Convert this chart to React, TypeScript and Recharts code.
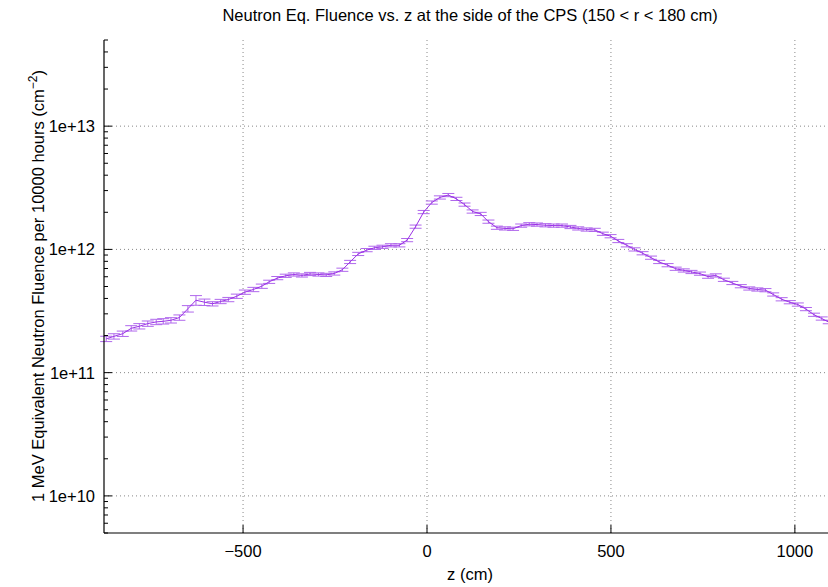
import { LineChart, Line, XAxis, YAxis, ErrorBar, ReferenceLine } from 'recharts'

// z position along the beam (cm)
const Z = [
  -872, -851, -827, -804, -782, -759, -736, -717, -696, -673,
  -650, -628, -605, -583, -561, -540, -517, -495, -472, -449,
  -429, -407, -384, -362, -340, -318, -295, -274, -252, -230,
  -209, -187, -164, -143, -121, -98, -75, -54, -31, -9,
  13, 35, 58, 80, 102, 124, 146, 167, 190, 212,
  234, 256, 278, 299, 322, 344, 367, 390, 411, 434,
  456, 478, 499, 520, 543, 564, 586, 609, 631, 654,
  676, 698, 719, 742, 764, 785, 807, 830, 853, 876,
  898, 920, 941, 964, 986, 1008, 1030, 1052, 1073, 1092,
]

// 1 MeV eq. neutron fluence per 10000 h (cm^-2)
const FLUENCE = [
  1.88e11, 1.97e11, 2.07e11, 2.29e11, 2.38e11, 2.5e11, 2.58e11, 2.61e11, 2.66e11, 2.8e11,
  3.3e11, 3.87e11, 3.73e11, 3.62e11, 3.78e11, 3.92e11, 4.17e11, 4.5e11, 4.73e11, 5.03e11,
  5.46e11, 5.85e11, 6.11e11, 6.26e11, 6.15e11, 6.32e11, 6.26e11, 6.21e11, 6.38e11, 6.84e11,
  7.91e11, 9.19e11, 9.87e11, 1.03e12, 1.05e12, 1.08e12, 1.08e12, 1.19e12, 1.53e12, 2.01e12,
  2.4e12, 2.64e12, 2.76e12, 2.57e12, 2.31e12, 2.03e12, 1.94e12, 1.68e12, 1.5e12, 1.48e12,
  1.47e12, 1.56e12, 1.6e12, 1.59e12, 1.57e12, 1.56e12, 1.56e12, 1.52e12, 1.48e12, 1.45e12,
  1.44e12, 1.34e12, 1.28e12, 1.17e12, 1.08e12, 1.0e12, 9.31e11, 8.57e11, 7.91e11, 7.45e11,
  6.97e11, 6.75e11, 6.56e11, 6.36e11, 6.01e11, 6.15e11, 5.67e11, 5.34e11, 5.03e11, 4.82e11,
  4.73e11, 4.67e11, 4.31e11, 3.94e11, 3.73e11, 3.57e11, 3.28e11, 2.95e11, 2.75e11, 2.57e11,
]

// error bar half-size, percent of value
const ERR_PCT = [
  5, 5, 5, 5, 5, 5, 5, 5, 5, 5,
  6, 9, 6, 4, 4, 4, 4, 4, 4, 4,
  3, 3, 3, 3, 3, 3, 3, 3, 3, 3,
  3, 3, 3, 3, 3, 3, 3, 3, 3, 3,
  3, 3, 3, 3, 3, 3, 3, 3, 3, 3,
  3, 3, 3, 3, 3, 3, 3, 3, 3, 3,
  3, 3, 3, 3, 3, 3, 3, 3, 3, 3,
  3, 3, 3, 3, 3, 3, 3, 3, 3, 3,
  3, 3, 3, 3, 3, 3, 3, 3, 3, 3,
]

const X_TICKS = [-500, 0, 500, 1000]
const Y_MAJOR = [1e10, 1e11, 1e12, 1e13]
const Y_TICKS: number[] = []
for (let e = 9; e <= 13; e++) {
  for (let m = 1; m <= 9; m++) {
    const v = m * Math.pow(10, e)
    if (v >= 5e9 && v <= 5e13) Y_TICKS.push(v)
  }
}

const data = Z.map((z, i) => ({ z, f: FLUENCE[i], err: (FLUENCE[i] * ERR_PCT[i]) / 100 }))

const FONT = '"Liberation Sans", Arial, sans-serif'
const FS = 16.5
const PURPLE = '#9b30e6'
const BAR = '#b068ec'

const isMajor = (v: number) => Y_MAJOR.some((m) => Math.abs(m - v) / m < 1e-6)
const fmtY = (v: number) => `1e+${Math.round(Math.log10(v))}`
const fmtX = (v: number) => (v < 0 ? `\u2212${-v}` : `${v}`)

function YTick(props: any) {
  const { x, y, payload } = props
  const v = payload.value
  const major = isMajor(v)
  const edge = x + 9
  return (
    <g>
      <line x1={edge} x2={edge + (major ? 8 : 4)} y1={y} y2={y} stroke="#000" strokeWidth={1} />
      {major && (
        <text x={x} y={y} dy={6} textAnchor="end" fontSize={FS} fontFamily={FONT} fill="#000">
          {fmtY(v)}
        </text>
      )}
    </g>
  )
}

export default function App() {
  return (
    <div style={{ position: 'relative', width: 828, height: 587, background: '#fff', fontFamily: FONT }}>
      <style>{`body{margin:0}`}</style>
      <div style={{ position: 'absolute', top: 6, left: 0, width: 940, textAlign: 'center', fontSize: FS }}>
        Neutron Eq. Fluence vs. z at the side of the CPS (150 &lt; r &lt; 180 cm)
      </div>
      <div
        style={{
          position: 'absolute',
          left: 37,
          top: 286,
          transform: 'translate(-50%, -50%) rotate(-90deg)',
          whiteSpace: 'nowrap',
          fontSize: FS,
        }}
      >
        1 MeV Equivalent Neutron Fluence per 10000 hours (cm<sup style={{ fontSize: 12 }}>&minus;2</sup>)
      </div>
      <div style={{ position: 'absolute', top: 565, left: 0, width: 940, textAlign: 'center', fontSize: FS }}>
        z (cm)
      </div>
      <LineChart
        width={828}
        height={587}
        data={data}
        margin={{ top: 40, right: 0, bottom: 0, left: 0 }}
        style={{ position: 'absolute', top: 0, left: 0 }}
      >
        <XAxis
          xAxisId="b"
          type="number"
          dataKey="z"
          domain={[-878, 1090]}
          allowDataOverflow
          ticks={X_TICKS}
          tickFormatter={fmtX}
          height={54}
          tickSize={-8}
          tickMargin={20}
          axisLine={{ stroke: '#000', strokeWidth: 1.2 }}
          tickLine={{ stroke: '#000' }}
          tick={{ fontSize: FS, fontFamily: FONT, fill: '#000' }}
        />
        <XAxis
          xAxisId="t"
          orientation="top"
          type="number"
          dataKey="z"
          domain={[-878, 1090]}
          allowDataOverflow
          ticks={X_TICKS}
          height={0}
          tickSize={-8}
          tick={false}
          axisLine={{ stroke: '#000', strokeWidth: 1.2 }}
          tickLine={{ stroke: '#000' }}
        />
        <YAxis
          scale="log"
          domain={[5e9, 5e13]}
          allowDataOverflow
          ticks={Y_TICKS}
          interval={0}
          width={104}
          tickSize={0}
          tickMargin={9}
          tickLine={false}
          axisLine={{ stroke: '#000', strokeWidth: 1.2 }}
          tick={<YTick />}
        />
        {Y_MAJOR.map((v) => (
          <ReferenceLine key={`gy${v}`} xAxisId="b" y={v} stroke="#888" strokeDasharray="1 3" />
        ))}
        {X_TICKS.map((v) => (
          <ReferenceLine key={`gx${v}`} xAxisId="b" x={v} stroke="#888" strokeDasharray="1 3" />
        ))}
        <Line
          xAxisId="b"
          type="linear"
          dataKey="f"
          stroke={PURPLE}
          strokeWidth={1}
          dot={false}
          isAnimationActive={false}
        >
          <ErrorBar dataKey="err" width={6} stroke={BAR} strokeWidth={1} direction="y" isAnimationActive={false} />
        </Line>
      </LineChart>
    </div>
  )
}
